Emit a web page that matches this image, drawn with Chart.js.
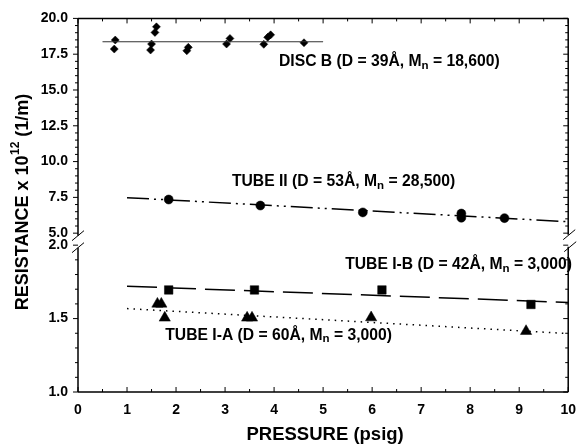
<!DOCTYPE html>
<html><head><meta charset="utf-8">
<script src="https://cdn.jsdelivr.net/npm/chart.js@4.4.0/dist/chart.umd.min.js"></script>
<style>html,body{margin:0;padding:0;background:#fff}canvas{display:block}</style>
</head><body>
<canvas id="c" width="586" height="445"></canvas>
<script>
// ---- data ----
const xRange = [0, 10];
const upperRange = [5, 20];
const lowerRange = [1, 2];

const discB_x = [0.76, 0.74, 1.60, 1.57, 1.50, 1.48, 2.25, 2.22, 3.10, 3.03, 3.79, 3.87, 3.93, 4.61];
const discB_y = [18.49, 17.86, 19.41, 19.02, 18.21, 17.79, 17.98, 17.74, 18.60, 18.21, 18.19, 18.68, 18.85, 18.30];
const discB_fitX = [0.5, 5.0];
const discB_fitY = [18.37, 18.37];

const tube2_x = [1.85, 3.72, 5.81, 7.82, 7.82, 8.70];
const tube2_y = [7.35, 6.93, 6.45, 6.37, 6.08, 6.05];
const tube2_fitX = [1, 10];
const tube2_fitY = [7.48, 5.80];

const tube1b_x = [1.85, 3.60, 6.20, 9.24];
const tube1b_y = [1.695, 1.695, 1.695, 1.596];
const tube1b_fitX = [1, 10];
const tube1b_fitY = [1.72, 1.61];

const tube1a_x = [1.62, 1.70, 1.77, 3.45, 3.55, 5.98, 9.14];
const tube1a_y = [1.60, 1.60, 1.505, 1.505, 1.505, 1.507, 1.414];
const tube1a_fitX = [1, 10];
const tube1a_fitY = [1.568, 1.398];

const labels = [
  {pre: 'DISC B (D = 39Å, M', sub: 'n', post: ' = 18,600)', x: 4.10, y: 16.95, axis: 'yTop'},
  {pre: 'TUBE II (D = 53Å, M', sub: 'n', post: ' = 28,500)', x: 3.14, y: 8.58, axis: 'yTop'},
  {pre: 'TUBE I-B (D = 42Å, M', sub: 'n', post: ' = 3,000)', x: 5.45, y: 1.864, axis: 'yBot'},
  {pre: 'TUBE I-A (D = 60Å, M', sub: 'n', post: ' = 3,000)', x: 1.78, y: 1.386, axis: 'yBot'}
];
const xTitle = 'PRESSURE (psig)';
const yTitle = ['RESISTANCE x 10', '12', ' (1/m)'];

// ---- helpers ----
const pts = (xs, ys) => xs.map((x, i) => ({x, y: ys[i]}));
const FONT = '"Liberation Sans", Arial, Helvetica, sans-serif';
Chart.defaults.color = '#000';
Chart.defaults.font.family = FONT;

const pointSet = (data, axis, style, r) => ({
  data, yAxisID: axis, showLine: false, pointStyle: style, pointRadius: r,
  pointBackgroundColor: '#000', pointBorderColor: '#000', pointBorderWidth: 0.5
});
const lineSet = (data, axis, dash, w, color) => ({
  data, yAxisID: axis, showLine: true, pointRadius: 0, borderColor: color || '#000',
  borderWidth: w, borderDash: dash, fill: false, tension: 0
});

const framePlugin = {
  id: 'frame',
  afterDraw(chart) {
    const ctx = chart.ctx;
    const xs = chart.scales.x, yt = chart.scales.yTop, yb = chart.scales.yBot;
    const L = xs.left, R = xs.right, T = yt.top, B = yb.bottom;
    const b1 = yt.bottom + 2.5, b2 = yb.top + 2.5;
    ctx.save();
    ctx.strokeStyle = '#000';
    ctx.lineWidth = 1.5;
    ctx.beginPath();
    ctx.moveTo(L, T); ctx.lineTo(R, T);
    ctx.moveTo(L, B); ctx.lineTo(R, B);
    ctx.moveTo(L, T); ctx.lineTo(L, b1);
    ctx.moveTo(L, b2); ctx.lineTo(L, B);
    ctx.moveTo(R, T); ctx.lineTo(R, b1 - 1);
    ctx.moveTo(R, b2 - 1); ctx.lineTo(R, B);
    ctx.stroke();
    ctx.lineWidth = 1;
    ctx.beginPath();
    [[L, b1], [L, b2], [R + 1, b1 - 1], [R + 2, b2 - 1]].forEach(([cx, cy]) => {
      ctx.moveTo(cx - 6, cy + 5); ctx.lineTo(cx + 6, cy - 5);
    });
    ctx.stroke();

    ctx.lineWidth = 1;
    ctx.beginPath();
    const each = (min, max, step, majorStep, fn) => {
      const n = Math.round((max - min) / step);
      for (let i = 0; i <= n; i++) {
        const v = min + i * step;
        const q = v / majorStep;
        fn(v, Math.abs(q - Math.round(q)) < 1e-6);
      }
    };
    const vTicks = (sc, step, major) => each(sc.min, sc.max, step, major, (v, M) => {
      const y = sc.getPixelForValue(v);
      const len = M ? 5 : 3;
      ctx.moveTo(L - len, y); ctx.lineTo(L, y);
      ctx.moveTo(R, y); ctx.lineTo(R - len, y);
    });
    vTicks(yt, 0.5, 2.5);
    vTicks(yb, 0.1, 0.5);
    each(xs.min, xs.max, 0.5, 1, (v, M) => {
      const x = xs.getPixelForValue(v);
      const len = M ? 5 : 3;
      ctx.moveTo(x, T); ctx.lineTo(x, T + len);
      ctx.moveTo(x, B); ctx.lineTo(x, B - len);
    });
    ctx.stroke();

    ctx.fillStyle = '#000';
    ctx.textBaseline = 'middle';
    ctx.textAlign = 'left';
    labels.forEach(l => {
      let x = xs.getPixelForValue(l.x);
      const y = chart.scales[l.axis].getPixelForValue(l.y);
      ctx.font = 'bold 15.7px ' + FONT;
      ctx.fillText(l.pre, x, y); x += ctx.measureText(l.pre).width;
      ctx.font = 'bold 11.5px ' + FONT;
      ctx.fillText(l.sub, x, y + 4); x += ctx.measureText(l.sub).width;
      ctx.font = 'bold 15.7px ' + FONT;
      ctx.fillText(l.post, x, y);
    });

    ctx.font = 'bold 18.5px ' + FONT;
    ctx.textAlign = 'center';
    ctx.fillText(xTitle, (L + R) / 2 + 2, 435);

    ctx.translate(23, (T + B) / 2 - 3);
    ctx.rotate(-Math.PI / 2);
    ctx.textAlign = 'left';
    ctx.font = 'bold 18px ' + FONT;
    const w0 = ctx.measureText(yTitle[0]).width, w2 = ctx.measureText(yTitle[2]).width;
    ctx.font = 'bold 12px ' + FONT;
    const w1 = ctx.measureText(yTitle[1]).width;
    let px = -(w0 + w1 + w2) / 2;
    ctx.font = 'bold 18px ' + FONT;
    ctx.fillText(yTitle[0], px, 0); px += w0;
    ctx.font = 'bold 12px ' + FONT;
    ctx.fillText(yTitle[1], px + 0.5, -7); px += w1 + 0.5;
    ctx.font = 'bold 18px ' + FONT;
    ctx.fillText(yTitle[2], px, 0);
    ctx.restore();
  }
};

const tickFont = {size: 14, weight: 'bold', family: FONT};
const yCommon = {
  type: 'linear', position: 'left', stack: 'L', offset: false,
  grid: {display: false, drawTicks: false}, border: {display: false},
  afterFit(s) { s.width = 78; }
};

new Chart(document.getElementById('c'), {
  type: 'line',
  data: {
    datasets: [
      lineSet(pts(discB_fitX, discB_fitY), 'yTop', [], 1.2, '#333'),
      pointSet(pts(discB_x, discB_y), 'yTop', 'rectRot', 4),
      lineSet(pts(tube2_fitX, tube2_fitY), 'yTop', [22, 5, 2, 5, 2, 5], 1.5),
      pointSet(pts(tube2_x, tube2_y), 'yTop', 'circle', 4.5),
      lineSet(pts(tube1b_fitX, tube1b_fitY), 'yBot', [30, 9], 1.5),
      pointSet(pts(tube1b_x, tube1b_y), 'yBot', 'rect', 6),
      lineSet(pts(tube1a_fitX, tube1a_fitY), 'yBot', [1.5, 5], 1.5),
      pointSet(pts(tube1a_x, tube1a_y), 'yBot', 'triangle', 6.5)
    ]
  },
  options: {
    responsive: false, animation: false, devicePixelRatio: 1,
    layout: {padding: {top: 18, right: 9, left: 0, bottom: 0}},
    plugins: {legend: {display: false}, tooltip: {enabled: false}},
    scales: {
      x: {
        type: 'linear', min: xRange[0], max: xRange[1],
        grid: {display: false, drawTicks: false}, border: {display: false},
        ticks: {stepSize: 1, padding: 10, font: tickFont, maxRotation: 0},
        afterFit(s) { s.height = 53; }
      },
      yTop: Object.assign({}, yCommon, {
        min: upperRange[0], max: upperRange[1], stackWeight: 215, weight: 3,
        ticks: {stepSize: 2.5, padding: 10, font: tickFont, callback: v => v.toFixed(1)}
      }),
      yGap: Object.assign({}, yCommon, {
        min: 0, max: 1, stackWeight: 12, weight: 2,
        ticks: {display: false}
      }),
      yBot: Object.assign({}, yCommon, {
        min: lowerRange[0], max: lowerRange[1], stackWeight: 147, weight: 1,
        ticks: {stepSize: 0.5, padding: 10, font: tickFont, callback: v => v.toFixed(1)}
      })
    }
  },
  plugins: [framePlugin]
});
</script>
</body></html>
